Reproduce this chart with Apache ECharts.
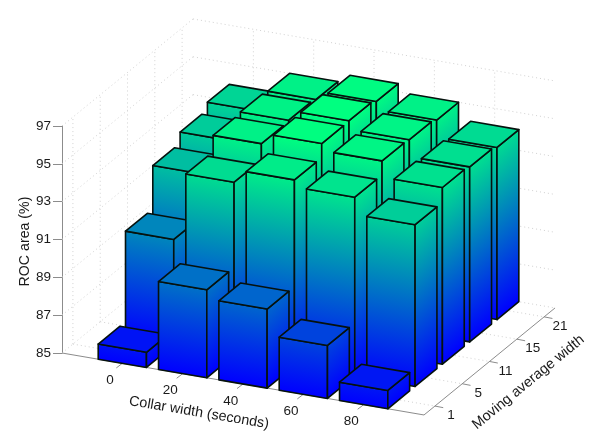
<!DOCTYPE html>
<html>
<head>
<meta charset="utf-8">
<style>
  html, body { margin: 0; padding: 0; background: #fff; }
  #chart { width: 601px; height: 447px; }
</style>
<script src="https://cdn.jsdelivr.net/npm/echarts@6/dist/echarts.min.js"></script>
</head>
<body>
<div id="chart"></div>
<script>
// axis labels
const collarWidths = ['0', '20', '40', '60', '80']
const movingWidths = ['1', '5', '11', '15', '21']
const rocTicks = [85, 87, 89, 91, 93, 95, 97]

// ROC area per moving average width, one value per collar width
const rocWidth1 = [85.8, 89.65, 89.18, 87.8, 85.97]
const rocWidth5 = [90.59, 94.16, 94.83, 94.46, 93.55]
const rocWidth11 = [92.88, 95.02, 95.57, 95.2, 94.34]
const rocWidth15 = [93.47, 95.08, 95.6, 95.14, 94.25]
const rocWidth21 = [93.87, 95.0, 95.44, 95.0, 94.1]
const rocRows = [rocWidth1, rocWidth5, rocWidth11, rocWidth15, rocWidth21]

// 视角：每个类目在屏幕上的偏移
const collarRise = 10.33
const depthStep = [27.3, -22.3]
const depthMin = -0.4
const depthMax = 4.4
const collarMin = -1
const collarMax = 5
const halfBar = 0.4

const blue = [0, 0, 255]
const green = [0, 255, 128]
const colorMax = 95.6

const textColor = '#1a1a1a'
const axisColor = '#8c8c8c'
const gridColor = '#d2d2d2'
const fontFamily = '"Liberation Sans", Arial, sans-serif'

const winter = v => {
  const t = Math.min(1, Math.max(0, (v - rocTicks[0]) / (colorMax - rocTicks[0])))
  return 'rgb(' + blue.map((c, k) => Math.round(c + (green[k] - c) * t)).join(',') + ')'
}

// collar 走库的 x 轴，ROC 走 y 轴，深度方向自己加偏移
const project = (api, i, j, z) => {
  const p = api.coord([i, z])
  const d = j - depthMin
  return [p[0] + d * depthStep[0], p[1] + (i - collarMin) * collarRise + d * depthStep[1]]
}

// 等色线平行于面的底边，渐变方向垂直于底边
const faceGradient = (base, top, along, value) => {
  const len = Math.hypot(along[0], along[1])
  const n = [along[1] / len, -along[0] / len]
  const s = (top[0] - base[0]) * n[0] + (top[1] - base[1]) * n[1]
  return new echarts.graphic.LinearGradient(
    base[0], base[1], base[0] + n[0] * s, base[1] + n[1] * s,
    [{ offset: 0, color: winter(rocTicks[0]) }, { offset: 1, color: winter(value) }],
    true
  )
}

const edgeStyle = { stroke: '#06120e', lineWidth: 1.6, lineJoin: 'round' }

const polygon = (points, fill) => ({
  type: 'polygon',
  shape: { points },
  style: Object.assign({ fill }, edgeStyle)
})

const renderBar = (params, api) => {
  const i = api.value(0)
  const j = api.value(1)
  const v = api.value(2)
  const z0 = rocTicks[0]
  const l = i - halfBar, r = i + halfBar, f = j - halfBar, b = j + halfBar
  const lfBase = project(api, l, f, z0), lfTop = project(api, l, f, v)
  const rfBase = project(api, r, f, z0), rfTop = project(api, r, f, v)
  const rbBase = project(api, r, b, z0), rbTop = project(api, r, b, v)
  const lbTop = project(api, l, b, v)
  const frontDir = [rfBase[0] - lfBase[0], rfBase[1] - lfBase[1]]
  const sideDir = [rbBase[0] - rfBase[0], rbBase[1] - rfBase[1]]
  return {
    type: 'group',
    children: [
      polygon([lfBase, rfBase, rfTop, lfTop], faceGradient(lfBase, lfTop, frontDir, v)),
      polygon([rfBase, rbBase, rbTop, rfTop], faceGradient(rfBase, rfTop, sideDir, v)),
      polygon([lfTop, rfTop, rbTop, lbTop], winter(v))
    ]
  }
}

const line = (a, b, stroke, dashed) => ({
  type: 'line',
  shape: { x1: a[0], y1: a[1], x2: b[0], y2: b[1] },
  style: { stroke, lineWidth: 1, lineDash: dashed ? [1, 3] : null }
})

const label = (text, pos, size, rotation) => ({
  type: 'text',
  x: pos[0],
  y: pos[1],
  rotation: rotation || 0,
  style: {
    text,
    fill: textColor,
    font: size + 'px ' + fontFamily,
    align: 'center',
    verticalAlign: 'middle'
  }
})

const renderFrame = (params, api) => {
  const children = []
  const z0 = rocTicks[0]
  const zTop = rocTicks[rocTicks.length - 1]

  // 墙和地面的虚线网格
  rocTicks.forEach(z => {
    children.push(line(project(api, collarMin, depthMin, z), project(api, collarMin, depthMax, z), gridColor, true))
    children.push(line(project(api, collarMin, depthMax, z), project(api, collarMax, depthMax, z), gridColor, true))
  })
  movingWidths.forEach((m, j) => {
    children.push(line(project(api, collarMin, j, z0), project(api, collarMax, j, z0), gridColor, true))
    children.push(line(project(api, collarMin, j, z0), project(api, collarMin, j, zTop), gridColor, true))
  })
  collarWidths.forEach((c, i) => {
    children.push(line(project(api, i, depthMin, z0), project(api, i, depthMax, z0), gridColor, true))
    children.push(line(project(api, i, depthMax, z0), project(api, i, depthMax, zTop), gridColor, true))
  })

  // 底部两条轴
  const corner = project(api, collarMax, depthMin, z0)
  children.push(line(project(api, collarMin, depthMin, z0), corner, axisColor))
  children.push(line(corner, project(api, collarMax, depthMax, z0), axisColor))

  collarWidths.forEach((c, i) => {
    const p = project(api, i, depthMin, z0)
    children.push(line(p, [p[0] - 6, p[1] + 4.6], axisColor))
    children.push(label(c, [p[0] - 12.3, p[1] + 16.9], 13.5))
  })
  movingWidths.forEach((m, j) => {
    const p = project(api, collarMax, j, z0)
    children.push(line(p, [p[0] + 8.3, p[1] + 1.6], axisColor))
    children.push(label(m, [p[0] + 16, p[1] + 9.5], 13.5))
  })

  children.push(label('ROC area (%)', [25, 241.5], 14.2, Math.PI / 2))
  children.push(label('Collar width (seconds)', [199, 412.7], 14.3, -9.5 * Math.PI / 180))
  children.push(label('Moving average width', [528.3, 382.3], 14.4, 39.3 * Math.PI / 180))
  return { type: 'group', children }
}

// 从后往前画，后面的柱子先出
const barData = []
for (let j = rocRows.length - 1; j >= 0; j--) {
  rocRows[j].forEach((v, i) => barData.push([i, j, v]))
}

const chart = echarts.init(document.getElementById('chart'), null, { renderer: 'canvas' })
chart.setOption({
  animation: false,
  backgroundColor: '#fff',
  grid: { left: 62, top: 126, width: 362, height: 227, containLabel: false },
  xAxis: { type: 'value', min: collarMin, max: collarMax, show: false },
  yAxis: {
    type: 'value',
    min: rocTicks[0],
    max: rocTicks[rocTicks.length - 1],
    interval: 2,
    position: 'left',
    axisLine: { show: true, onZero: false, lineStyle: { color: axisColor, width: 1 } },
    axisTick: { show: true, length: 9, lineStyle: { color: axisColor, width: 1 } },
    axisLabel: { color: textColor, fontSize: 13.5, fontFamily, margin: 11 },
    splitLine: { show: false }
  },
  series: [
    { type: 'custom', renderItem: renderFrame, data: [[0, 85]], silent: true, z: 1, clip: false },
    { type: 'custom', renderItem: renderBar, data: barData, encode: { x: 0, y: 2 }, silent: true, z: 2, clip: false }
  ]
})
</script>
</body>
</html>
